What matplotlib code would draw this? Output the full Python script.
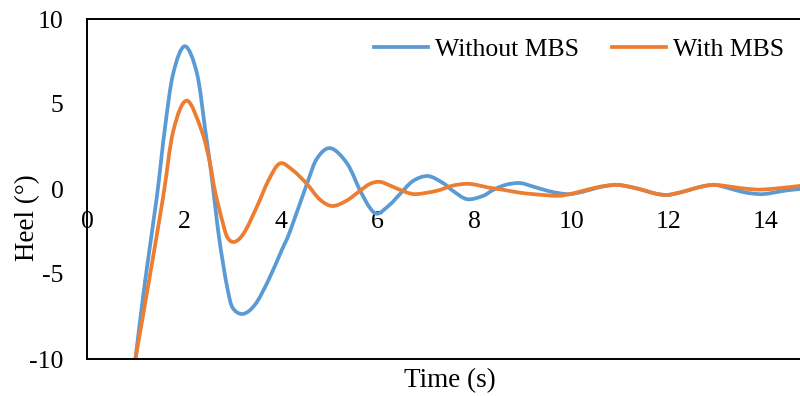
import matplotlib
matplotlib.use('Agg')
import matplotlib.pyplot as plt
from matplotlib.path import Path
from matplotlib.patches import PathPatch
from matplotlib.lines import Line2D

# -------------------------------
# Data
# -------------------------------
t_without = [1.0, 1.2, 1.44, 1.61, 1.78, 2.02, 2.27, 2.44, 2.58, 2.7, 2.81, 2.91,
             3.01, 3.22, 3.47, 3.74, 4.02, 4.19, 4.54, 4.75, 5.03, 5.37, 5.64,
             5.84, 6.0, 6.26, 6.46, 6.73, 7.04, 7.35, 7.56, 7.85, 8.18,
             8.38, 8.65, 8.94, 9.2, 9.5, 9.75, 9.97, 10.25, 10.5, 10.75, 10.97,
             11.25, 11.5, 11.75, 11.98, 12.25, 12.5, 12.75, 12.97, 13.25, 13.5,
             13.75, 13.96, 14.2, 14.45, 14.72]
heel_without = [-10, -5.4, -0.5, 3.6, 6.8, 8.4, 6.8, 3.5, 0.6, -2.3, -4.4, -6.0,
                -7.0, -7.35, -6.8, -5.4, -3.6, -2.5, 0.3, 1.8, 2.4, 1.5, -0.1,
                -1.1, -1.45, -0.9, -0.3, 0.47, 0.76, 0.35, -0.12, -0.6, -0.4,
                -0.06, 0.25, 0.35, 0.15, -0.1, -0.25, -0.3, -0.15, 0.05, 0.2, 0.24,
                0.1, -0.08, -0.28, -0.35, -0.2, 0.0, 0.18, 0.24, 0.05, -0.15,
                -0.27, -0.3, -0.2, -0.08, 0.0]

t_with = [1.0, 1.28, 1.57, 1.78, 2.06, 2.37, 2.54, 2.64, 2.81, 2.91, 3.06, 3.26,
          3.53, 3.74, 3.98, 4.25, 4.54, 4.8, 5.06, 5.35, 5.64, 5.84, 6.05, 6.3,
          6.6, 6.81, 7.23, 7.55, 7.9, 8.3, 8.6, 8.9, 9.2, 9.7,
          9.97, 10.25, 10.5, 10.75, 10.97, 11.25, 11.5, 11.75, 11.98, 12.25, 12.5,
          12.75, 12.97, 13.25, 13.5, 13.75, 13.96, 14.3, 14.72]
heel_with = [-10, -5.4, -0.5, 3.4, 5.2, 3.4, 1.5, -0.1, -2.06, -2.9, -3.1, -2.5,
             -0.9, 0.47, 1.5, 1.1, 0.3, -0.6, -1.0, -0.7, -0.1, 0.3, 0.42, 0.15,
             -0.2, -0.3, -0.1, 0.2, 0.3, 0.08, -0.05, -0.2, -0.3, -0.4,
             -0.3, -0.1, 0.08, 0.2, 0.24, 0.1, -0.08, -0.28, -0.35, -0.2, 0.0,
             0.18, 0.24, 0.15, 0.05, -0.02, -0.03, 0.05, 0.18]

x_ticks = [0, 2, 4, 6, 8, 10, 12, 14]
y_ticks = [-10, -5, 0, 5, 10]

series = [
    ('Without MBS', t_without, heel_without, '#5B9BD5'),
    ('With MBS', t_with, heel_with, '#ED7D31'),
]


def smooth_path(xs, ys):
    # spreadsheet-style "smoothed line": cubic Bezier through every point
    pts = list(zip(xs, ys))
    n = len(pts)
    verts = [pts[0]]
    codes = [Path.MOVETO]
    for i in range(n - 1):
        p0 = pts[i - 1] if i > 0 else pts[i]
        p1 = pts[i]
        p2 = pts[i + 1]
        p3 = pts[i + 2] if i + 2 < n else pts[i + 1]
        c1 = (p1[0] + (p2[0] - p0[0]) / 6, p1[1] + (p2[1] - p0[1]) / 6)
        c2 = (p2[0] - (p3[0] - p1[0]) / 6, p2[1] - (p3[1] - p1[1]) / 6)
        verts += [c1, c2, p2]
        codes += [Path.CURVE4] * 3
    return Path(verts, codes)


# -------------------------------
# Plot
# -------------------------------
plt.rcParams['font.family'] = 'Liberation Serif'
plt.rcParams['axes.unicode_minus'] = False
fs = 18.5
lw = 2.7

fig = plt.figure(figsize=(8, 3.96), dpi=100)
ax = fig.add_axes([87 / 800, 1 - 359 / 396, 1 - 87 / 800, (359 - 19) / 396])

handles = []
for name, t, h, col in series:
    ax.add_patch(PathPatch(smooth_path(t, h), facecolor='none', edgecolor=col,
                           lw=lw, capstyle='round', joinstyle='round'))
    handles.append(Line2D([], [], color=col, lw=lw, label=name))

ax.set_xlim(0, 14.72)
ax.set_ylim(-10, 10)

for s in ['left', 'top', 'bottom']:
    ax.spines[s].set_linewidth(1.4)
ax.spines['right'].set_visible(False)

ax.set_yticks(y_ticks)
ax.tick_params(axis='y', length=0, pad=17, labelsize=fs)
ax.set_xticks([])

# x tick labels sit just under the zero line
sec = ax.secondary_xaxis(0.5)
sec.set_alignment('bottom')
for sp in sec.spines.values():
    sp.set_visible(False)
sec.set_xticks(x_ticks)
sec.tick_params(axis='x', length=0, pad=15.5, labelsize=fs)

fig.text(28 / 800, 1 - 218 / 396, 'Heel (°)', rotation=90, fontsize=fs + 1,
         ha='center', va='center')
fig.text(450 / 800, 1 - 381 / 396, 'Time (s)', fontsize=fs + 1,
         ha='center', va='center')

ax.legend(handles=handles, loc='center', bbox_to_anchor=(579 / 800, 1 - 50 / 396),
          bbox_transform=fig.transFigure, ncol=2, frameon=False, fontsize=fs,
          handlelength=2.1, handletextpad=0.25, columnspacing=1.3)

fig.savefig('out.png', dpi=100)
